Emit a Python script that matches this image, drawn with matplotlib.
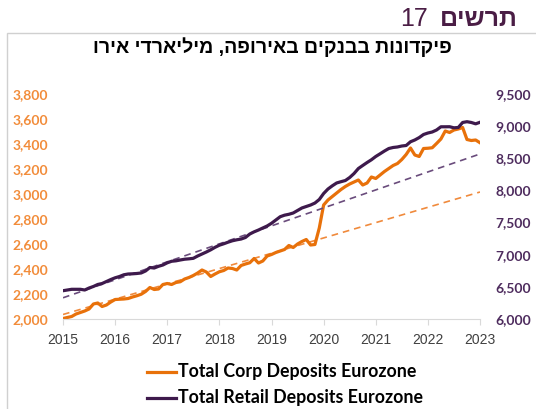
import numpy as np
import matplotlib.pyplot as plt
from matplotlib.lines import Line2D
from matplotlib.patches import Rectangle

# monthly, Jan 2015 .. Jan 2023
corp = [2004, 2012, 2020, 2040, 2052, 2064, 2080, 2120, 2128, 2100, 2112, 2136,
        2156, 2158, 2160, 2164, 2176, 2186, 2198, 2220, 2252, 2236, 2240, 2276,
        2284, 2276, 2292, 2298, 2320, 2332, 2348, 2368, 2392, 2376, 2340, 2360,
        2378, 2388, 2408, 2404, 2392, 2428, 2440, 2450, 2484, 2448, 2464, 2504,
        2516, 2532, 2544, 2556, 2588, 2572, 2600, 2620, 2636, 2592, 2596, 2728,
        2912, 2952, 2980, 3008, 3036, 3060, 3080, 3096, 3112, 3072, 3088, 3136,
        3124, 3152, 3180, 3204, 3228, 3244, 3276, 3316, 3368, 3312, 3300, 3364,
        3366, 3370, 3404, 3440, 3504, 3492, 3512, 3520, 3532, 3436, 3428, 3432,
        3410]
retail = [6440, 6451, 6462, 6462, 6462, 6451, 6482, 6506, 6537, 6552, 6583, 6614,
          6641, 6661, 6688, 6700, 6703, 6708, 6716, 6747, 6801, 6793, 6820, 6840,
          6874, 6898, 6905, 6918, 6930, 6936, 6944, 6980, 7011, 7042, 7076, 7115,
          7148, 7170, 7195, 7217, 7232, 7244, 7268, 7322, 7356, 7384, 7416, 7447,
          7489, 7540, 7591, 7615, 7629, 7649, 7688, 7727, 7750, 7773, 7804, 7859,
          7952, 8022, 8072, 8116, 8136, 8154, 8201, 8263, 8341, 8388, 8434, 8477,
          8528, 8570, 8613, 8652, 8668, 8676, 8691, 8699, 8757, 8785, 8822, 8870,
          8893, 8909, 8940, 8990, 8990, 8991, 8974, 8979, 9057, 9069, 9057, 9036,
          9060]
# linear trendline end points (2015, 2023)
trend_years = [2015, 2023]
corp_trend = [2036, 3016]
retail_trend = [6330, 8567]

years = [2015, 2016, 2017, 2018, 2019, 2020, 2021, 2022, 2023]
left_ticks = [2000, 2200, 2400, 2600, 2800, 3000, 3200, 3400, 3600, 3800]
right_ticks = [6000, 6500, 7000, 7500, 8000, 8500, 9000, 9500]

orange = '#E8710A'
orange_lbl = '#F28C3A'
purple = '#3E1A4C'
purple_lbl = '#4E2C5E'

x = 2015 + np.arange(len(corp)) / 12

fig = plt.figure(figsize=(5.36, 4.09), dpi=100)
ax = fig.add_axes([63 / 536, 1 - 319 / 409, 417 / 536, 225 / 409])
ax2 = ax.twinx()

ax.plot(trend_years, corp_trend, color='#F08A3C', lw=1.2, ls=(0, (4, 3)))
ax.plot(x, corp, color=orange, lw=2.3)
ax2.plot(trend_years, retail_trend, color='#6A4C7C', lw=1.2, ls=(0, (4, 3)))
ax2.plot(x, retail, color=purple, lw=2.3)

ax.set_xlim(2015, 2023)
ax.set_ylim(2000, 3800)
ax2.set_ylim(6000, 9500)
ax.set_xticks(years)
ax.set_xticklabels([str(y) for y in years], family='Liberation Sans', fontsize=10, color='#404040')
ax.set_yticks(left_ticks)
ax.set_yticklabels([f'{v:,}' for v in left_ticks], family='Lato', fontweight='bold',
                   fontsize=10, color=orange_lbl)
ax2.set_yticks(right_ticks)
ax2.set_yticklabels([f'{v:,}' for v in right_ticks], family='Lato', fontweight='bold',
                    fontsize=10, color=purple_lbl)
ax.tick_params(axis='y', length=0, pad=11)
ax2.tick_params(axis='y', length=0, pad=11)
ax.tick_params(axis='x', length=4, color='#D9D9D9', pad=6)

for a in (ax, ax2):
    for s in ('top', 'left', 'right'):
        a.spines[s].set_visible(False)
    a.spines['bottom'].set_color('#D9D9D9')
ax2.spines['bottom'].set_visible(False)

# frame round the chart
fig.add_artist(Rectangle((7 / 536, -0.1), 1.1, 1 - 33 / 409 + 0.1, transform=fig.transFigure,
                         fill=False, edgecolor='#D0D0D0', lw=1))

# titles (Hebrew in visual order)
heb = ['Liberation Sans', 'DejaVu Sans']
fig.text(518 / 536, 1 - 19 / 409, 'םישרת', family=heb, fontweight='bold', fontsize=18,
         color='#4A1D45', ha='right', va='center')
fig.text(428 / 536, 1 - 19 / 409, '17', family=heb, fontsize=18,
         color='#4A1D45', ha='right', va='center')
title = 'פיקדונות בבנקים באירופה, מיליארדי אירו'
fig.text(272 / 536, 1 - 47 / 409, title[::-1], family=heb, fontweight='bold', fontsize=14,
         color='black', ha='center', va='center')

# legend
labels = ['Total Corp Deposits Eurozone', 'Total Retail Deposits Eurozone']
for i, (lab, col) in enumerate(zip(labels, [orange, purple])):
    yy = 1 - (372 + 26 * i) / 409
    fig.add_artist(Line2D([147 / 536, 176 / 536], [yy, yy], transform=fig.transFigure,
                          color=col, lw=2.3))
    fig.text(178 / 536, yy, lab, family='Lato', fontweight='bold', fontsize=12.8,
             color='black', ha='left', va='center')

fig.savefig('out.png', dpi=100)
